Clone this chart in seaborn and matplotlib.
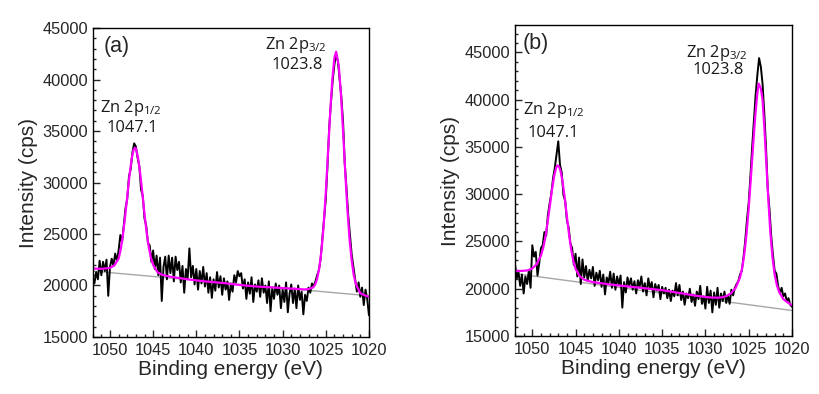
import numpy as np
import matplotlib
matplotlib.use("Agg")
import matplotlib.pyplot as plt
import matplotlib.ticker as mticker
import seaborn as sns

# --- energy grid of the scans (0.2 eV step) ---
energy = np.linspace(1052.0, 1020.0, 161)

# --- raw counts, panel (a) ---
counts_a = [
    20700, 20200, 21300, 20600, 22400, 21000, 22300, 21400, 22500, 19000,
    21800, 22600, 21900, 23100, 22400, 23400, 24900, 24200, 25900, 27500,
    28400, 30600, 31300, 32900, 33800, 33500, 32400, 31600, 29300, 28700,
    26500, 25800, 24100, 23900, 22300, 23400, 21600, 22900, 21000, 22700,
    18500, 21800, 22800, 20600, 22900, 21200, 22700, 20400, 22800, 21500,
    22300, 20300, 21900, 19300, 21600, 20700, 23600, 20800, 21900, 20100,
    21600, 19600, 21400, 20200, 21800, 19900, 21200, 19300, 20800, 18800,
    20600, 19500, 21300, 19800, 20900, 19100, 20700, 19600, 20400, 18600,
    20200, 19400, 21000, 20300, 21400, 20900, 21200, 19700, 20600, 18700,
    20300, 19200, 20800, 18400, 20100, 19400, 20500, 18900, 20700, 19300,
    20000, 18300, 20400, 17500, 19800, 18700, 20200, 19100, 20000, 17800,
    19600, 18400, 20300, 17400, 19200, 20100, 18300, 19700, 17800, 20000,
    18600, 19400, 17200, 19100, 18500, 19800, 19300, 20200, 19900, 20400,
    21000, 21500, 22600, 24700, 26500, 28400, 31700, 35400, 37800, 39900,
    41500, 42400, 41800, 40100, 38300, 35900, 31800, 29400, 26800, 24900,
    23000, 21800, 20600, 19400, 20300, 18900, 19800, 18100, 19600, 18700,
    17100,
]

# --- raw counts, panel (b) ---
counts_b = [
    22600, 21100, 21800, 20300, 21500, 19500, 21300, 20500, 21900, 20100,
    24600, 23400, 23900, 21400, 22700, 24300, 24600, 26000, 25600, 27800,
    29000, 30100, 31700, 32800, 34200, 35600, 33100, 32300, 29900, 29300,
    27200, 26500, 24800, 24300, 22500, 23700, 21300, 23300, 20500, 23100,
    21200, 22400, 20800, 22000, 21100, 22300, 20300, 21700, 20900, 21900,
    20200, 21500, 19400, 21200, 20600, 21800, 20100, 21600, 19900, 21300,
    20400, 21400, 18000, 20700, 19600, 21200, 20300, 21100, 19900, 20800,
    19500, 20900, 20200, 21300, 19700, 20600, 19300, 21100, 20000, 20700,
    19100, 20500, 19800, 20400, 18900, 20200, 19500, 20100, 19000, 19900,
    18700, 19800, 19200, 20600, 19300, 20400, 18800, 19700, 18300, 19500,
    19000, 20000, 18600, 19400, 18200, 19700, 18900, 20300, 18400, 19200,
    17900, 20200, 18500, 19800, 17500, 19600, 18300, 20100, 18000, 19500,
    18700, 19700, 18500, 19300, 18400, 19900, 19300, 20100, 20500, 20800,
    21500, 21900, 23300, 25100, 27300, 29100, 31900, 35000, 37700, 40500,
    42600, 44400, 43500, 41700, 38600, 35000, 30600, 28400, 25600, 23600,
    21900, 21600, 20300, 19500, 20100, 19200, 19500, 18700, 19000, 18300,
    18100,
]

# --- fitted envelope, panel (a) ---
fit_e_a = [
    1052.0, 1051.0, 1050.0, 1049.5, 1049.0, 1048.75, 1048.5, 1048.25, 1048.0,
    1047.75, 1047.5, 1047.25, 1047.1, 1047.0, 1046.75, 1046.5, 1046.25, 1046.0,
    1045.75, 1045.5, 1045.25, 1045.0, 1044.5, 1044.0, 1043.0, 1041.0, 1039.0,
    1037.0, 1035.0, 1033.0, 1031.0, 1029.0, 1027.5, 1027.0, 1026.5, 1026.25,
    1026.0, 1025.75, 1025.5, 1025.25, 1025.0, 1024.75, 1024.5, 1024.25, 1024.0,
    1023.8, 1023.5, 1023.25, 1023.0, 1022.75, 1022.5, 1022.25, 1022.0, 1021.75,
    1021.5, 1021.0, 1020.5, 1020.0,
]
fit_i_a = [
    21650, 21620, 21700, 21950, 22600, 23550, 24900, 26650, 28640,
    30600, 32260, 33230, 33350, 33330, 32400, 30890, 28950, 26930,
    25130, 23690, 22670, 22000, 21300, 21050, 20850, 20600, 20400,
    20250, 20050, 19900, 19800, 19700, 19620, 19650, 19800, 20050,
    20660, 21720, 23400, 25840, 29040, 32790, 36650, 39970, 42140,
    42700, 41340, 38650, 34980, 31050, 27450, 24500, 22400, 20950,
    20100, 19250, 19050, 18900,
]

# --- fitted envelope, panel (b) ---
fit_e_b = [
    1052.0, 1051.5, 1051.0, 1050.5, 1050.0, 1049.5, 1049.0, 1048.75, 1048.5,
    1048.25, 1048.0, 1047.75, 1047.5, 1047.25, 1047.1, 1046.9, 1046.75, 1046.5,
    1046.25, 1046.0, 1045.75, 1045.5, 1045.25, 1045.0, 1044.5, 1044.0, 1043.0,
    1041.0, 1039.0, 1037.0, 1035.0, 1033.0, 1031.0, 1029.5, 1028.5, 1028.0,
    1027.5, 1027.0, 1026.5, 1026.0, 1025.75, 1025.5, 1025.25, 1025.0, 1024.75,
    1024.5, 1024.25, 1024.0, 1023.85, 1023.6, 1023.4, 1023.2, 1023.0, 1022.75,
    1022.5, 1022.25, 1022.0, 1021.75, 1021.5, 1021.0, 1020.5, 1020.0,
]
fit_i_b = [
    21900, 21880, 21900, 21950, 22150, 22600, 23500, 24300, 25400,
    26900, 28600, 30300, 31800, 32800, 33050, 32900, 32500, 31300,
    29600, 27600, 25700, 24100, 22900, 22100, 21300, 20950, 20700,
    20450, 20250, 20050, 19850, 19550, 19250, 19080, 19050, 19100,
    19250, 19550, 20100, 21200, 22200, 23700, 25800, 28500, 31700,
    35000, 38200, 40700, 41700, 41200, 40000, 37200, 33900, 29700,
    26000, 23300, 21500, 20400, 19700, 18900, 18550, 18250,
]

# --- linear background (end points) ---
bg_e = [1052.0, 1020.0]
bg_a = [21400, 19000]
bg_b = [21600, 17700]

panels = [
    dict(label="(a)", counts=counts_a, fit_e=fit_e_a, fit_i=fit_i_a, bg=bg_a,
         ylim=(15000, 45000), rect=[0.1132, 0.1447, 0.3373, 0.7842],
         pos=dict(lab=(0.041, 0.939), p1=(0.139, 0.741), v1=(0.142, 0.676),
                  p3=(0.736, 0.945), v3=(0.739, 0.880))),
    dict(label="(b)", counts=counts_b, fit_e=fit_e_b, fit_i=fit_i_b, bg=bg_b,
         ylim=(15000, 47900), rect=[0.6288, 0.1472, 0.3382, 0.7893],
         pos=dict(lab=(0.029, 0.942), p1=(0.141, 0.727), v1=(0.137, 0.653),
                  p3=(0.729, 0.910), v3=(0.733, 0.855))),
]

sns.set_style("ticks")
plt.rcParams["font.family"] = ["Liberation Sans", "DejaVu Sans"]
plt.rcParams["mathtext.fontset"] = "custom"
plt.rcParams["mathtext.rm"] = "Open Sans"
plt.rcParams["mathtext.it"] = "Open Sans"

ANN_FONT = ["Open Sans", "DejaVu Sans"]
ANN_COLOR = "#1a1a1a"

fig = plt.figure(figsize=(8.19, 3.94), dpi=100)

for p in panels:
    ax = fig.add_axes(p["rect"])
    sns.lineplot(x=bg_e, y=p["bg"], ax=ax, color="#a6a6a6", linewidth=1.0)
    sns.lineplot(x=energy, y=p["counts"], ax=ax, color="black", linewidth=1.4)
    sns.lineplot(x=p["fit_e"], y=p["fit_i"], ax=ax, color="#ff00ff", linewidth=1.6)

    ax.set_xlim(1052, 1020)
    ax.set_ylim(*p["ylim"])
    ax.xaxis.set_major_locator(mticker.MultipleLocator(5))
    ax.xaxis.set_minor_locator(mticker.MultipleLocator(1))
    ax.yaxis.set_major_locator(mticker.MultipleLocator(5000))
    ax.yaxis.set_minor_locator(mticker.MultipleLocator(1000))
    ax.tick_params(which="both", direction="in", labelsize=11.8, width=1)
    ax.tick_params(which="major", length=5)
    ax.tick_params(which="minor", length=2.5)
    ax.tick_params(axis="x", pad=4)
    for s in ax.spines.values():
        s.set_linewidth(1.0)
        s.set_color("black")

    ax.set_xlabel("Binding energy (eV)", fontsize=15, labelpad=2)
    ax.set_ylabel("Intensity (cps)", fontsize=15, labelpad=3)

    pos = p["pos"]
    ax.text(*pos["lab"], p["label"], transform=ax.transAxes, ha="left",
            va="center", fontsize=15.5)
    for key, txt in [("p1", r"Zn 2p$_{1/2}$"), ("v1", "1047.1"),
                     ("p3", r"Zn 2p$_{3/2}$"), ("v3", "1023.8")]:
        ax.text(*pos[key], txt, transform=ax.transAxes, ha="center",
                va="center", fontsize=11.8, family=ANN_FONT, color=ANN_COLOR)

fig.savefig("out.png", dpi=100)
